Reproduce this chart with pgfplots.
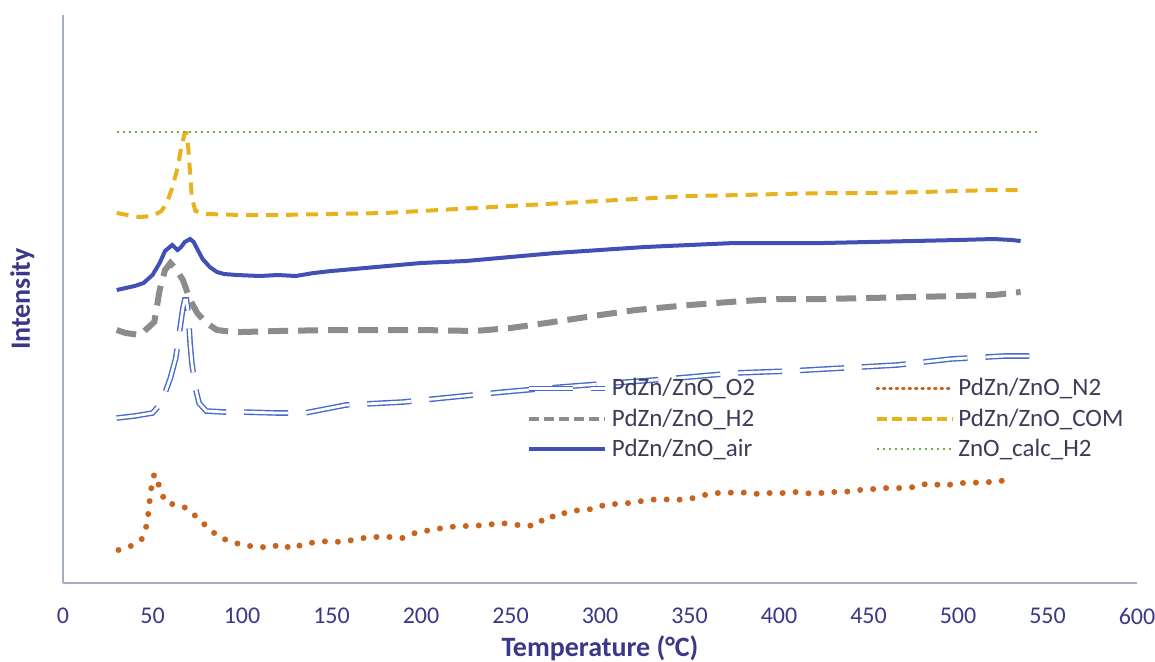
\documentclass[border=0pt]{standalone}
\usepackage{fontspec}
\setmainfont{Carlito}
\usepackage{pgfplots}
\pgfplotsset{compat=1.18}
\definecolor{axiscol}{RGB}{165,174,194}
\definecolor{tickcol}{RGB}{58,56,135}
\definecolor{legcol}{RGB}{60,60,90}
\definecolor{o2blue}{RGB}{70,105,205}
\definecolor{n2orange}{RGB}{200,100,30}
\definecolor{h2gray}{RGB}{140,140,140}
\definecolor{comyellow}{RGB}{232,178,30}
\definecolor{airblue}{RGB}{65,80,180}
\definecolor{calcgreen}{RGB}{112,173,71}
\begin{document}
\begin{tikzpicture}
\useasboundingbox (0,0) rectangle (577.5pt,330.5pt);
\begin{axis}[
  at={(31.5pt,39pt)}, anchor=south west,
  scale only axis, width=537pt, height=284pt,
  xmin=0, xmax=600, ymin=0, ymax=568,
  axis x line=bottom, axis y line=left,
  axis line style={-, draw=axiscol, line width=1.2pt},
  xtick={0,50,...,600}, ytick=\empty,
  major tick length=0pt,
  /pgf/number format/assume math mode=true,
  tick label style={font=\fontsize{12}{14}\selectfont, text=tickcol},
  xticklabel style={yshift=-9pt},
  xlabel={\bfseries Temperature (°C)},
  ylabel={\bfseries Intensity},
  label style={font=\fontsize{14}{16}\selectfont, text=tickcol},
  xlabel style={at={(axis description cs:0.5,-0.115)}, anchor=center},
  ylabel style={at={(axis description cs:-0.038,0.5)}, anchor=center},
  legend columns=2,
  legend cell align=left,
  legend image code/.code={\draw[#1] (0pt,0pt) -- (38pt,0pt);},
  legend style={at={(axis description cs:0.4255,0.375)}, anchor=north west,
    draw=none, fill=none, font=\fontsize{12.5}{14}\selectfont, text=legcol,
    row sep=1pt,
    /tikz/every even column/.append style={column sep=58pt}},
]
% PdZn/ZnO_O2
\addplot[o2blue, line width=0.7pt, double=white, double distance=1.4pt, dash pattern=on 22pt off 9pt] coordinates {
(30,165) (40,167) (50,170) (55,180) (58,195) (60,205) (63,225) (65,250) (67,275) (68,283) (69,283) (70,270) (71,240) (72,220) (74,195) (76,180) (80,172) (90,171) (100,171) (120,170) (135,170) (158,178) (190,181) (218,186) (246,191) (278,196) (300,199) (330,203) (350,206) (375,210) (406,212) (436,215) (466,218) (496,224) (526,227) (547,227)};
\addlegendentry{PdZn/ZnO\_O2}
% PdZn/ZnO_N2
\addplot[n2orange, line width=3pt, line cap=round, dash pattern=on 0pt off 6.5pt,
  legend image code/.code={\draw[n2orange, line width=1.2pt, dash pattern=on 1pt off 2.2pt] (0pt,0pt) -- (38pt,0pt);}] coordinates {
(31,33) (37,36) (44,44) (47,59) (48,75) (49,92) (51,109) (54,96) (57,81) (63,78) (69,75) (74,67) (80,57) (87,46) (93,42) (102,37) (108,37) (115,35) (122,39) (128,34) (134,39) (142,41) (149,42) (155,41) (162,43) (168,45) (175,46) (183,46) (190,45) (198,51) (206,53) (212,55) (221,57) (227,57) (237,58) (244,60) (250,59) (258,57) (265,58) (270,67) (277,66) (281,71) (289,73) (296,74) (304,79) (312,79) (320,81) (327,83) (334,84) (341,83) (350,84) (356,87) (363,90) (370,90) (378,91) (386,89) (394,90) (402,90) (410,91) (420,89) (427,91) (436,91) (445,93) (453,94) (460,95) (468,95) (476,96) (484,100) (492,97) (500,100) (507,100) (514,101) (522,101) (528,104)};
\addlegendentry{PdZn/ZnO\_N2}
% PdZn/ZnO_H2
\addplot[h2gray, line width=3pt, dash pattern=on 10pt off 5pt,
  legend image code/.code={\draw[h2gray, line width=1.8pt, dash pattern=on 5pt off 2.5pt] (0pt,0pt) -- (38pt,0pt);}] coordinates {
(30,253) (35,250) (43,248) (51,261) (54,293) (57,313) (60,320) (63,314) (67,303) (71,283) (75,270) (80,260) (86,253) (95,251) (100,251) (120,252) (150,253) (180,253) (200,253) (230,252) (250,255) (270,260) (300,268) (320,273) (350,278) (380,282) (400,284) (425,284) (450,285) (475,286) (500,287) (520,288) (535,291)};
\addlegendentry{PdZn/ZnO\_H2}
% PdZn/ZnO_COM
\addplot[comyellow, line width=2pt, dash pattern=on 6pt off 4pt,
  legend image code/.code={\draw[comyellow, line width=1.6pt, dash pattern=on 5pt off 2.5pt] (0pt,0pt) -- (38pt,0pt);}] coordinates {
(30,370) (36,368) (43,366) (50,367) (55,372) (58,380) (61,395) (64,415) (66,435) (68,450) (69,450) (70,435) (71,410) (72,385) (74,372) (80,369) (100,368) (120,368) (150,369) (180,370) (200,372) (220,374) (250,377) (280,380) (300,382) (330,385) (350,387) (380,388) (400,389) (430,390) (450,390) (480,391) (500,392) (520,393) (535,393)};
\addlegendentry{PdZn/ZnO\_COM}
% PdZn/ZnO_air
\addplot[airblue, line width=2pt] coordinates {
(30,293) (35,295) (40,297) (45,300) (50,308) (54,320) (57,332) (61,338) (64,333) (66,336) (68,341) (71,344) (73,341) (75,334) (78,324) (82,316) (86,311) (90,309) (97,308) (110,307) (120,308) (130,307) (140,310) (150,312) (175,316) (200,320) (225,322) (250,326) (275,330) (300,333) (325,336) (350,338) (375,340) (400,340) (425,340) (450,341) (475,342) (500,343) (520,344) (530,343) (535,342)};
\addlegendentry{PdZn/ZnO\_air}
% ZnO_calc_H2
\addplot[calcgreen, line width=1pt, dash pattern=on 1pt off 2pt] coordinates {
(30,451) (100,451) (200,451) (300,451) (400,451) (500,451) (546,451)};
\addlegendentry{ZnO\_calc\_H2}
\end{axis}
\end{tikzpicture}
\end{document}
